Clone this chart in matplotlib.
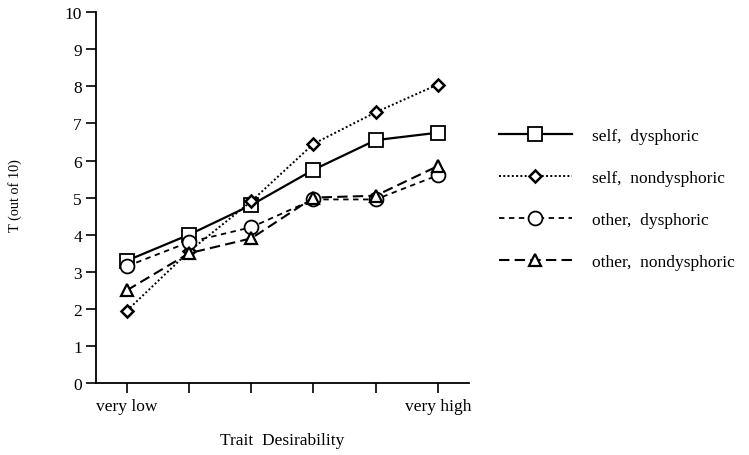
import matplotlib as mpl
mpl.use('Agg')
import matplotlib.pyplot as plt

plt.rcParams['font.family'] = ['Liberation Serif', 'DejaVu Serif']

# trait desirability levels (1 = very low ... 6 = very high)
levels = [1, 2, 3, 4, 5, 6]
tick_labels = ['very low', '', '', '', '', 'very high']

self_dysphoric = [3.3, 4.0, 4.8, 5.75, 6.55, 6.75]
self_nondysphoric = [1.95, 3.55, 4.9, 6.45, 7.3, 8.05]
other_dysphoric = [3.15, 3.8, 4.2, 4.95, 4.95, 5.6]
other_nondysphoric = [2.5, 3.5, 3.9, 5.0, 5.05, 5.85]

fig = plt.figure(figsize=(7.49, 4.56), dpi=100)
ax = fig.add_axes([0.128, 0.158, 0.498, 0.813])

ax.plot(levels, self_dysphoric, color='black', lw=1.6, ls='-',
        marker='s', ms=10, mfc='white', mec='black', mew=1.3,
        label='self,  dysphoric')
ax.plot(levels, self_nondysphoric, color='black', lw=1.4, ls=(0, (1, 1.2)),
        marker='D', ms=6.5, mfc='white', mec='black', mew=1.8,
        label='self,  nondysphoric')
ax.plot(levels, other_dysphoric, color='black', lw=1.3, ls=(0, (3, 2.5)),
        marker='o', ms=10, mfc='white', mec='black', mew=1.3,
        label='other,  dysphoric')
ax.plot(levels, other_nondysphoric, color='black', lw=1.5, ls=(0, (5, 2.5)),
        marker='^', ms=9, mfc='white', mec='black', mew=1.6,
        label='other,  nondysphoric')

ax.set_xlim(0.5, 6.5)
ax.set_ylim(0, 10)
ax.set_yticks(range(0, 11))
ax.set_xticks(levels)
ax.set_xticklabels(tick_labels)
ax.tick_params(direction='out', length=7, width=1.2, labelsize=12.5)
ax.tick_params(axis='y', pad=3)
for side in ['top', 'right']:
    ax.spines[side].set_visible(False)
for side in ['left', 'bottom']:
    ax.spines[side].set_linewidth(1.3)

ax.set_ylabel('T (out of 10)', fontsize=10.3)
ax.yaxis.set_label_coords(-0.198, 0.507)
ax.set_xlabel('Trait  Desirability', fontsize=12.5)
ax.xaxis.set_label_coords(0.499, -0.132)

leg = ax.legend(loc='upper left', bbox_to_anchor=(0.657, 0.733),
                bbox_transform=fig.transFigure, frameon=False,
                fontsize=12.5, handlelength=4.2, handletextpad=1.15,
                labelspacing=1.5, borderaxespad=0)

fig.savefig('out.png', dpi=100)
